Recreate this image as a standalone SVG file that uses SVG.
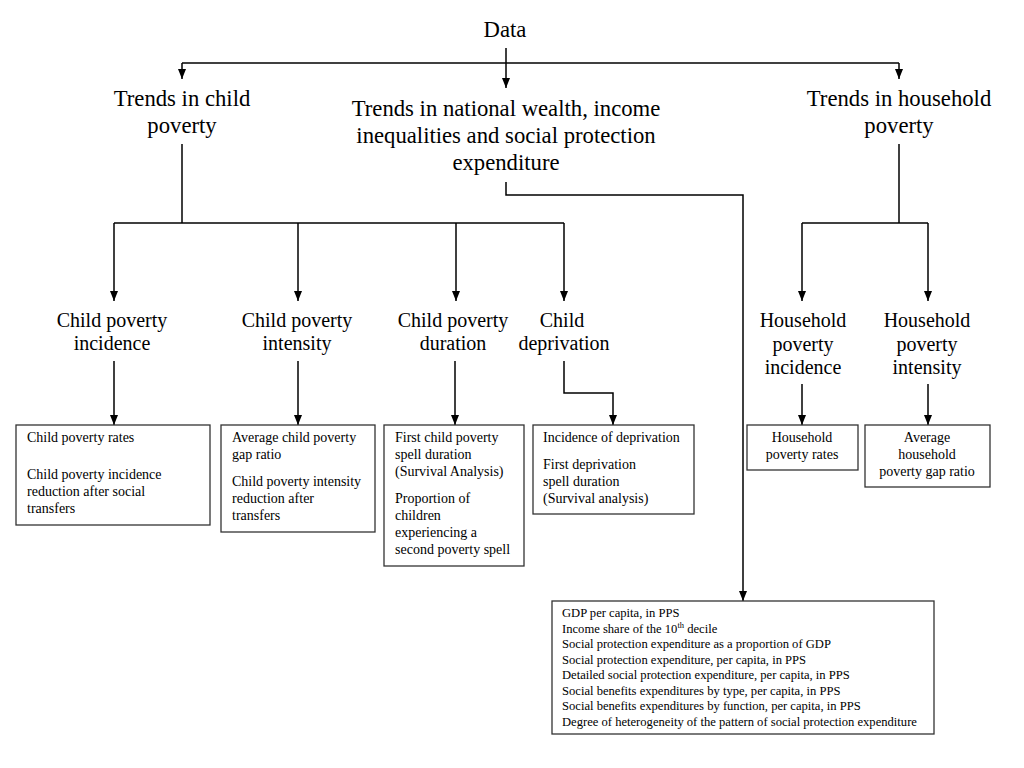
<svg xmlns="http://www.w3.org/2000/svg" width="1024" height="768" viewBox="0 0 1024 768">
<defs>
<marker id="ah" markerUnits="userSpaceOnUse" markerWidth="10" markerHeight="10" viewBox="0 0 10 8" refX="10" refY="4" orient="auto">
<path d="M0,0 L10,4 L0,8 z" fill="#000"/>
</marker>
<style>
text{font-family:"Liberation Serif","Times New Roman",serif;fill:#000}
.t1{font-size:22.7px;text-anchor:middle}
.t2{font-size:20px;text-anchor:middle}
.b{font-size:14px}
.bc{font-size:14px;text-anchor:middle}
.s{font-size:12.6px}
.box{fill:#fff;stroke:#333;stroke-width:1.3}
.c path{fill:none;stroke:#000;stroke-width:1.5}
.c path.a{marker-end:url(#ah)}
</style>
</defs>
<rect width="1024" height="768" fill="#fff"/>
<g class="c" id="connectors">
<path class="a" d="M506,48 V88"/>
<path d="M182,63 H899"/>
<path class="a" d="M182,63 V79"/>
<path class="a" d="M899,63 V79"/>
<path d="M182,144 V223"/>
<path d="M114,223 H564"/>
<path class="a" d="M114,223 V301"/>
<path class="a" d="M298,223 V301"/>
<path class="a" d="M456,223 V301"/>
<path class="a" d="M564,223 V301"/>
<path d="M899,144 V223"/>
<path d="M802,223 H928"/>
<path class="a" d="M802,223 V301"/>
<path class="a" d="M928,223 V301"/>
<path class="a" d="M506,182 V195 H743 V601"/>
<path class="a" d="M114,361 V425"/>
<path class="a" d="M298,361 V425"/>
<path class="a" d="M455,361 V425"/>
<path class="a" d="M564,361 V393 H613 V425"/>
<path class="a" d="M802,384 V425"/>
<path class="a" d="M928,384 V425"/>
</g>
<g id="data"><text class="t1" x="505" y="37">Data</text></g>
<g id="trends-child"><text class="t1" x="182" y="106">Trends in child</text><text class="t1" x="182" y="133">poverty</text></g>
<g id="trends-national"><text class="t1" x="506" y="116">Trends in national wealth, income</text><text class="t1" x="506" y="143">inequalities and social protection</text><text class="t1" x="506" y="170">expenditure</text></g>
<g id="trends-household"><text class="t1" x="899" y="106">Trends in household</text><text class="t1" x="899" y="133">poverty</text></g>
<g id="cp-incidence"><text class="t2" x="112" y="327">Child poverty</text><text class="t2" x="112" y="350">incidence</text></g>
<g id="cp-intensity"><text class="t2" x="297" y="327">Child poverty</text><text class="t2" x="297" y="350">intensity</text></g>
<g id="cp-duration"><text class="t2" x="453" y="327">Child poverty</text><text class="t2" x="453" y="350">duration</text></g>
<g id="child-deprivation"><text class="t2" x="562" y="327">Child</text><text class="t2" x="564" y="350">deprivation</text></g>
<g id="hh-incidence"><text class="t2" x="803" y="327">Household</text><text class="t2" x="803" y="351">poverty</text><text class="t2" x="803" y="374">incidence</text></g>
<g id="hh-intensity"><text class="t2" x="927" y="327">Household</text><text class="t2" x="927" y="351">poverty</text><text class="t2" x="927" y="374">intensity</text></g>
<g id="box-cp-incidence"><rect class="box" x="16" y="425" width="194" height="100"/>
<text class="b" x="27" y="442">Child poverty rates</text>
<text class="b" x="27" y="479">Child poverty incidence</text>
<text class="b" x="27" y="496">reduction after social</text>
<text class="b" x="27" y="513">transfers</text></g>
<g id="box-cp-intensity"><rect class="box" x="221" y="425" width="154" height="107"/>
<text class="b" x="232" y="442">Average child poverty</text>
<text class="b" x="232" y="459">gap ratio</text>
<text class="b" x="232" y="486">Child poverty intensity</text>
<text class="b" x="232" y="503">reduction after</text>
<text class="b" x="232" y="520">transfers</text></g>
<g id="box-cp-duration"><rect class="box" x="384" y="425" width="140" height="141"/>
<text class="b" x="395" y="442">First child poverty</text>
<text class="b" x="395" y="459">spell duration</text>
<text class="b" x="395" y="476">(Survival Analysis)</text>
<text class="b" x="395" y="503">Proportion of</text>
<text class="b" x="395" y="520">children</text>
<text class="b" x="395" y="537">experiencing a</text>
<text class="b" x="395" y="554">second poverty spell</text></g>
<g id="box-deprivation"><rect class="box" x="533" y="425" width="161" height="89"/>
<text class="b" x="543" y="442">Incidence of deprivation</text>
<text class="b" x="543" y="469">First deprivation</text>
<text class="b" x="543" y="486">spell duration</text>
<text class="b" x="543" y="503">(Survival analysis)</text></g>
<g id="box-hh-incidence"><rect class="box" x="747" y="425" width="111" height="45"/>
<text class="bc" x="802" y="442">Household</text>
<text class="bc" x="802" y="459">poverty rates</text></g>
<g id="box-hh-intensity"><rect class="box" x="865" y="425" width="125" height="62"/>
<text class="bc" x="927" y="442">Average</text>
<text class="bc" x="927" y="459">household</text>
<text class="bc" x="927" y="476">poverty gap ratio</text></g>
<g id="box-national"><rect class="box" x="552" y="601" width="382" height="133"/>
<text class="s" x="562" y="617">GDP per capita, in PPS</text>
<text class="s" x="562" y="632.5">Income share of the 10<tspan font-size="8.5" dy="-4.5">th</tspan><tspan dy="4.5"> decile</tspan></text>
<text class="s" x="562" y="648">Social protection expenditure as a proportion of GDP</text>
<text class="s" x="562" y="663.5">Social protection expenditure, per capita, in PPS</text>
<text class="s" x="562" y="679">Detailed social protection expenditure, per capita, in PPS</text>
<text class="s" x="562" y="694.5">Social benefits expenditures by type, per capita, in PPS</text>
<text class="s" x="562" y="710">Social benefits expenditures by function, per capita, in PPS</text>
<text class="s" x="562" y="725.5">Degree of heterogeneity of the pattern of social protection expenditure</text></g>
</svg>
